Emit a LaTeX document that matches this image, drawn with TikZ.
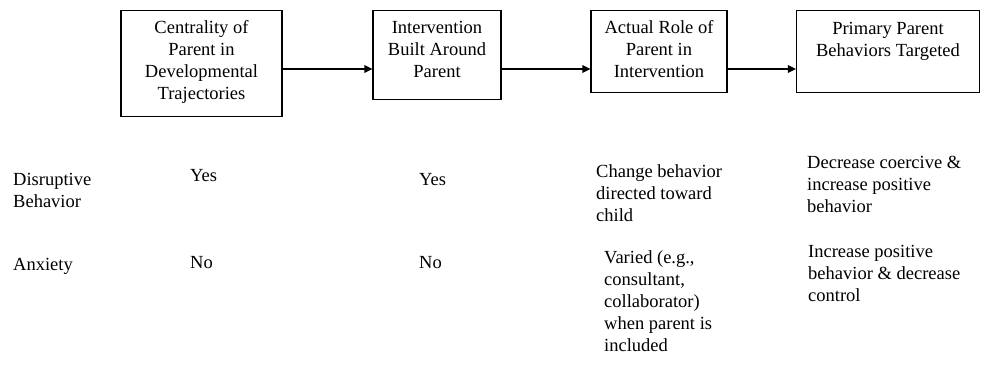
\documentclass[tikz,border=0pt]{standalone}
\usepackage{fontspec}
\setmainfont{Liberation Serif}
\usetikzlibrary{arrows.meta}
\tikzset{
  box/.style={draw, line width=1.1pt, rectangle, inner sep=0pt, anchor=north},
  txt/.style={inner sep=0pt, font=\fontsize{18.5}{22}\selectfont},
  boxtxt/.style={txt, align=center, anchor=north},
  celltxt/.style={txt, align=left, anchor=north west},
  arr/.style={line width=1.1pt, -{Triangle[length=8pt,width=7.5pt]}}
}
\newcommand{\fs}{\rule{0pt}{15.4pt}}
\begin{document}
\begin{tikzpicture}[x=1pt,y=-1pt]
\useasboundingbox (0,0) rectangle (981,371);
% boxes
\node[box, minimum width=161pt, minimum height=106pt] (b1) at (201.5,10) {};
\node[box, minimum width=128pt, minimum height=89pt] (b2) at (437,10) {};
\node[box, minimum width=136pt, minimum height=82pt] (b3) at (659,10) {};
\node[box, minimum width=183pt, minimum height=82pt] (b4) at (888,10) {};
\node[boxtxt] (t1) at (201.5,18) {\fs Centrality of\\Parent in\\Developmental\\Trajectories};
\node[boxtxt] (t2) at (437,18) {\fs Intervention\\Built Around\\Parent};
\node[boxtxt] (t3) at (659,18) {\fs Actual Role of\\Parent in\\Intervention};
\node[boxtxt] (t4) at (888,18.5) {\fs Primary Parent\\Behaviors Targeted};
% arrows
\coordinate (aline) at (0,69);
\draw[arr] (b1.east |- aline) -- (b2.west |- aline);
\draw[arr] (b2.east |- aline) -- (b3.west |- aline);
\draw[arr] (b3.east |- aline) -- (b4.west |- aline);
% rows
\node[celltxt] (r1) at (13,170) {\fs Disruptive\\Behavior};
\node[celltxt] (r1c1) at (190,166) {\fs Yes};
\node[celltxt] (r1c2) at (419,170) {\fs Yes};
\node[celltxt] (r1c3) at (596,162) {\fs Change behavior\\directed toward\\child};
\node[celltxt] (r1c4) at (807,153) {\fs Decrease coercive \&\\increase positive\\behavior};
\node[celltxt] (r2) at (13,255) {\fs Anxiety};
\node[celltxt] (r2c1) at (190,253) {\fs No};
\node[celltxt] (r2c2) at (419,253) {\fs No};
\node[celltxt] (r2c3) at (604,248) {\fs Varied (e.g.,\\consultant,\\collaborator)\\when parent is\\included};
\node[celltxt] (r2c4) at (808,242) {\fs Increase positive\\behavior \& decrease\\control};
\end{tikzpicture}
\end{document}
